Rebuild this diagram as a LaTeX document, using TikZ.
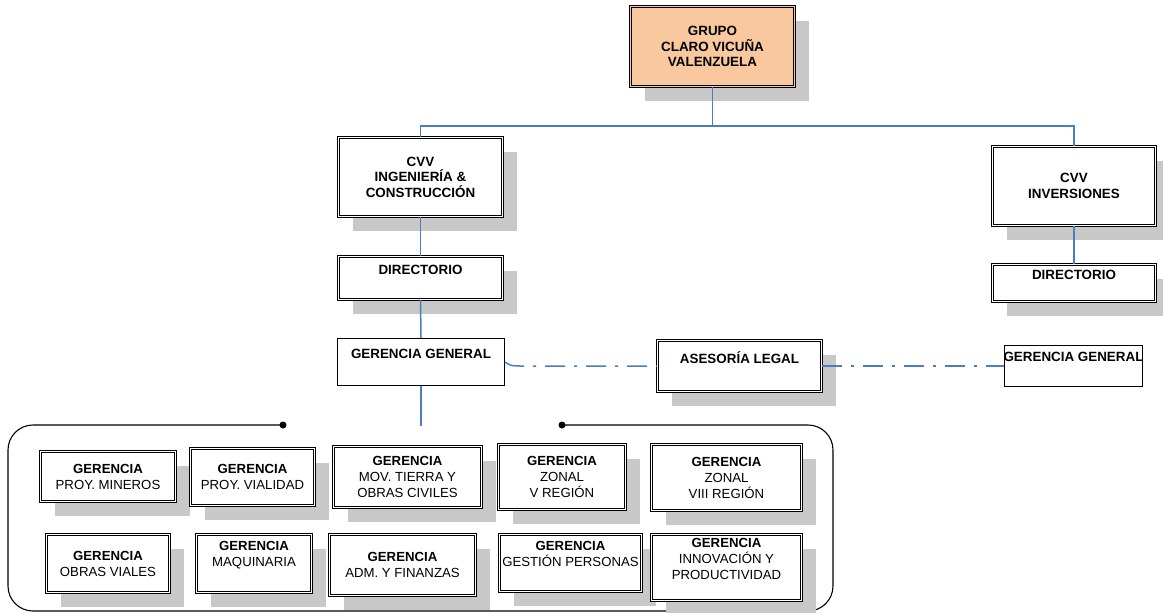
\documentclass[tikz,border=0pt]{standalone}
\usepackage{fontspec}
\setmainfont{Liberation Sans}
\usetikzlibrary{shadows}
\definecolor{lineblue}{RGB}{74,126,193}
\definecolor{shadowgray}{RGB}{200,200,200}
\definecolor{peach}{RGB}{250,200,158}
\tikzset{
  base/.style={inner sep=0pt, align=center, font=\bfseries\fontsize{13.4}{15.5}\selectfont},
  dbox/.style={base, draw=black, line width=1pt, double=white, double distance=1.6pt, fill=white,
    drop shadow={shadow xshift=14pt, shadow yshift=-14pt, fill=shadowgray, opacity=1}},
  sbox/.style={base, draw=black, line width=0.9pt, fill=white},
  gbox/.style={dbox, font=\fontsize{13.2}{16}\selectfont},
  lbl/.style={inner sep=0pt, align=center, font=\bfseries\fontsize{13.4}{15.5}\selectfont},
  glbl/.style={inner sep=0pt, align=center, font=\fontsize{13.2}{16}\selectfont},
  conn/.style={draw=lineblue, line width=1.5pt},
  legal/.style={conn, dash pattern=on 20pt off 9pt on 3pt off 9pt},
  frame/.style={draw=black, line width=1.1pt, rounded corners=25pt},
  dot/.style={circle, fill=black, inner sep=0pt, minimum size=7pt}
}
\begin{document}
\begin{tikzpicture}[x=1pt,y=-1pt]
\useasboundingbox (0,0) rectangle (1163,613);
% top level
\node[dbox, double=peach, fill=peach, minimum width=164pt, minimum height=80pt] (grupo) at (712.5,46.5) {GRUPO\\CLARO VICUÑA\\VALENZUELA};
\node[dbox, minimum width=164pt, minimum height=79pt] (cvvic) at (420.5,177) {CVV\\INGENIERÍA \&\\CONSTRUCCIÓN};
\node[dbox, minimum width=163pt, minimum height=79pt] (cvvinv) at (1074,186) {CVV\\INVERSIONES};
\node[dbox, minimum width=164pt, minimum height=43pt] (dirl) at (420.5,278) {};
\node[lbl] (dirlt) at ([yshift=8pt]dirl.center) {DIRECTORIO};
\node[dbox, minimum width=163pt, minimum height=37pt] (dirr) at (1074,283) {};
\node[lbl] (dirrt) at ([yshift=8pt]dirr.center) {DIRECTORIO};
\node[sbox, minimum width=167pt, minimum height=47pt] (ggl) at (421,362) {};
\node[lbl] (gglt) at ([yshift=8pt]ggl.center) {GERENCIA GENERAL};
\node[dbox, minimum width=164pt, minimum height=51pt] (ases) at (739.5,366) {};
\node[lbl] (asest) at ([yshift=8pt]ases.center) {ASESORÍA LEGAL};
\node[sbox, minimum width=138pt, minimum height=41pt] (ggr) at (1073.5,366) {};
\node[lbl] (ggrt) at ([yshift=9pt]ggr.center) {GERENCIA GENERAL};
% connectors
\coordinate (bus) at (712.5,126);
\draw[conn] (grupo.south) -- (bus) -| (cvvic.north);
\draw[conn] (bus) -| (cvvinv.north);
\draw[conn] (cvvic.south) -- (dirl.north);
\draw[conn] (dirl.south) -- (ggl.north);
\draw[conn] (cvvinv.south) -- (dirr.north);
\coordinate (gend) at (421,426);
\draw[conn] (ggl.south) -- (gend);
\coordinate (bend) at (520,366);
\draw[legal] (ggl.east) to[out=-40,in=180] (bend) -- (ases.west);
\draw[legal] (ases.east) -- (ggr.west);
% frame
\node[dot] (d1) at (283,425) {};
\node[dot] (d2) at (562,425) {};
\draw[frame] (d1.center) -- (8,425) -- (8,611) -- (833,611) -- (833,425) -- (d2.center);
% bottom boxes row 1
\node[gbox, minimum width=135pt, minimum height=50pt] (pm) at (108,476.5) {\textbf{GERENCIA}\\PROY. MINEROS};
\node[gbox, minimum width=124pt, minimum height=57pt] (pv) at (252.5,477) {\textbf{GERENCIA}\\PROY. VIALIDAD};
\node[gbox, minimum width=148pt, minimum height=61pt] (mt) at (407.5,477) {\textbf{GERENCIA}\\MOV. TIERRA Y\\OBRAS CIVILES};
\node[gbox, minimum width=127pt, minimum height=65pt] (zv) at (562,477) {\textbf{GERENCIA}\\ZONAL\\V REGIÓN};
\node[gbox, minimum width=150pt, minimum height=66pt] (z8) at (726.5,477.5) {\textbf{GERENCIA}\\ZONAL\\VIII REGIÓN};
% row 2
\node[gbox, minimum width=123pt, minimum height=58pt] (ov) at (108,563.5) {\textbf{GERENCIA}\\OBRAS VIALES};
\node[gbox, minimum width=115pt, minimum height=58pt] (mq) at (254,563.5) {};
\node[glbl] (mqt) at ([yshift=8pt]mq.center) {\textbf{GERENCIA}\\MAQUINARIA};
\node[gbox, minimum width=146pt, minimum height=61pt] (adm) at (402.5,565) {\textbf{GERENCIA}\\ADM. Y FINANZAS};
\node[gbox, minimum width=142pt, minimum height=57pt] (gp) at (570.5,563) {};
\node[glbl] (gpt) at ([yshift=9pt]gp.center) {\textbf{GERENCIA}\\GESTIÓN PERSONAS};
\node[gbox, minimum width=150pt, minimum height=66pt] (inn) at (726.5,567.5) {};
\node[glbl] (innt) at ([yshift=8.5pt]inn.center) {\textbf{GERENCIA}\\INNOVACIÓN Y\\PRODUCTIVIDAD};
\end{tikzpicture}
\end{document}
